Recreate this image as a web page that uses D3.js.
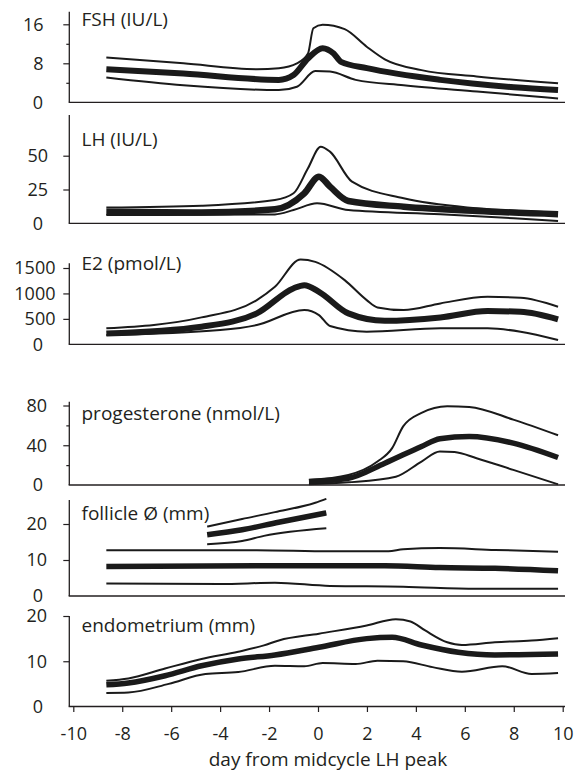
<!DOCTYPE html>
<html>
<head>
<meta charset="utf-8">
<script src="https://cdn.jsdelivr.net/npm/d3@7/dist/d3.min.js"></script>
<style>
  html, body { margin: 0; padding: 0; background: #fff; }
  svg { display: block; }
  text { font-family: "Open Sans", "DejaVu Sans", sans-serif; fill: #231f20; }
</style>
</head>
<body>
<svg id="chart" width="576" height="771"></svg>
<script>
// Day from the midcycle LH peak, shared by every panel
const dayTicks = [-10, -8, -6, -4, -2, 0, 2, 4, 6, 8, 10];
const xLabel = "day from midcycle LH peak";

// Each series: [day, value]; upper / mean / lower band of the cycle profile
const fshUpper = [[-8.65, 9.2], [-5.5, 8.0], [-2.5, 6.8], [-1.6, 7.0], [-0.86, 8.0], [-0.41, 10.0], [-0.19, 15.2], [0.19, 15.9], [1.09, 15.0], [1.99, 11.4], [2.73, 8.8], [4.23, 6.6], [6.48, 5.3], [9.81, 3.9]];
const fshMean  = [[-8.65, 6.8], [-5.5, 5.9], [-1.6, 4.6], [-1.0, 5.6], [-0.41, 9.0], [0.19, 11.1], [0.64, 10.0], [0.94, 8.3], [2.0, 7.0], [5.0, 4.6], [8.0, 3.1], [9.81, 2.5]];
const fshLower = [[-8.65, 5.1], [-5.5, 3.5], [-1.6, 2.5], [-0.86, 3.2], [-0.11, 6.4], [0.49, 6.3], [1.54, 4.6], [3.5, 3.5], [6.5, 2.2], [9.81, 0.8]];

const lhUpper = [[-8.65, 11.6], [-4.76, 13.0], [-1.76, 17.2], [-1.0, 22.2], [-0.41, 40.7], [0.11, 56.7], [0.49, 53.0], [1.39, 30.8], [3.5, 18.5], [6.5, 11.1], [9.81, 8.1]];
const lhMean  = [[-8.65, 8.6], [-4.76, 8.0], [-1.76, 10.4], [-0.56, 22.2], [0.04, 34.5], [0.49, 27.1], [1.24, 16.5], [3.5, 12.3], [6.5, 9.1], [9.81, 6.7]];
const lhLower = [[-8.65, 6.1], [-1.76, 6.6], [-1.0, 9.8], [-0.04, 14.8], [1.24, 9.8], [5.0, 6.7], [8.0, 3.7], [9.81, 1.7]];

const e2Upper = [[-8.65, 314], [-4.76, 529], [-2.5, 869], [-1.76, 1130], [-0.71, 1667], [-0.11, 1620], [1.09, 1261], [1.99, 869], [2.43, 725], [3.5, 673], [5.0, 804], [6.93, 934], [8.28, 915], [9.81, 738]];
const e2Mean  = [[-8.65, 210], [-4.76, 346], [-2.5, 608], [-1.01, 1098], [-0.56, 1163], [0.04, 1032], [1.24, 608], [2.73, 463], [5.0, 529], [6.93, 653], [8.28, 640], [9.81, 490]];
const e2Lower = [[-8.65, 182], [-4.0, 280], [-2.5, 378], [-0.56, 673], [0.04, 575], [0.49, 359], [1.99, 248], [5.0, 314], [6.93, 314], [8.28, 248], [9.81, 84]];

const progUpper = [[-0.37, 5.1], [1.24, 10.1], [2.43, 23.6], [3.03, 37.1], [3.48, 59.0], [4.23, 72.6], [5.28, 79.3], [6.18, 78.6], [7.98, 65.8], [9.81, 50.0]];
const progMean  = [[-0.37, 3.4], [1.24, 6.8], [2.73, 21.9], [4.23, 38.8], [4.98, 46.6], [6.18, 48.9], [7.98, 42.2], [9.81, 27.7]];
const progLower = [[-0.37, 0.7], [1.24, 2.7], [3.18, 8.4], [4.23, 23.6], [4.98, 33.8], [5.58, 33.1], [6.48, 27.0], [7.98, 15.2], [9.81, 0.7]];

// Dominant follicle (short segment before the LH peak)
const domUpper = [[-4.53, 19.3], [-3.1, 21.4], [-1.76, 23.3], [-0.11, 25.9], [0.34, 27.0]];
const domMean  = [[-4.53, 17.0], [-3.1, 18.4], [-1.61, 20.5], [0.34, 23.1]];
const domLower = [[-4.53, 14.4], [-3.1, 15.3], [-2.21, 16.7], [0.34, 18.8]];
// Follicle cohort
const folUpper = [[-8.65, 12.7], [-2.5, 12.7], [0.49, 12.4], [2.88, 12.4], [3.48, 13.0], [4.98, 13.3], [7.23, 12.8], [9.81, 12.3]];
const folMean  = [[-8.65, 8.2], [-2.5, 8.4], [2.73, 8.4], [4.98, 7.9], [7.23, 7.7], [9.81, 7.0]];
const folLower = [[-8.65, 3.5], [-4.0, 3.3], [-1.76, 3.7], [0.49, 2.8], [3.48, 2.6], [6.48, 2.0], [9.81, 2.0]];

const endoUpper = [[-8.65, 5.7], [-7.75, 6.2], [-6.25, 8.4], [-4.76, 10.5], [-3.26, 12.1], [-2.21, 13.5], [-1.6, 14.6], [0.04, 16.1], [1.99, 17.9], [3.18, 19.3], [3.78, 18.8], [4.38, 16.8], [5.28, 14.2], [5.88, 13.6], [7.23, 14.2], [8.73, 14.6], [9.81, 15.1]];
const endoMean  = [[-8.65, 4.8], [-7.75, 5.2], [-6.25, 6.8], [-4.76, 9.0], [-3.26, 10.5], [-1.76, 11.4], [0.04, 13.1], [1.99, 15.0], [3.03, 15.3], [4.23, 13.6], [5.73, 12.0], [7.23, 11.4], [9.81, 11.6]];
const endoLower = [[-8.65, 3.0], [-7.75, 3.1], [-6.1, 5.0], [-4.6, 7.2], [-3.26, 7.6], [-1.76, 9.0], [-0.56, 8.9], [0.19, 9.6], [1.54, 9.4], [2.43, 10.1], [3.48, 10.0], [4.68, 8.7], [5.88, 7.7], [7.53, 8.9], [8.73, 7.2], [9.81, 7.4]];

// Panel titles and y tick labels
const titles = ["FSH (IU/L)", "LH (IU/L)", "E2 (pmol/L)", "progesterone (nmol/L)", "follicle Ø (mm)", "endometrium (mm)"];
const fshTicks = [0, 8, 16],      fshMinor = [4, 12];
const lhTicks = [0, 25, 50];
const e2Ticks = [0, 500, 1000, 1500];
const progTicks = [0, 40, 80],    progMinor = [20, 60];
const folTicks = [0, 10, 20];
const endoTicks = [0, 10, 20];

// ---- layout ----
const svg = d3.select("#chart");
const ink = "#231f20";
const axisX0 = 69.3, axisX1 = 565;
const zeroRight = 43;  // right edge of the "0" labels
const x = d3.scaleLinear().domain([-10, 10]).range([73.3, 562.7]);

const panels = [
  { title: titles[0], ticks: fshTicks, minor: fshMinor, top: 16, y0: 102.3, yTop: 24.3, axisTop: 11.7, titleY: 26, labelRight: 43.5,
    series: [[fshUpper, 2], [fshLower, 2], [fshMean, 6]] },
  { title: titles[1], ticks: lhTicks, minor: [], top: 50, y0: 223.3, yTop: 155.7, axisTop: 115, titleY: 146, labelRight: 48,
    series: [[lhUpper, 2], [lhLower, 2], [lhMean, 6.5]] },
  { title: titles[2], ticks: e2Ticks, minor: [], top: 1500, y0: 344.3, yTop: 268, axisTop: 263.3, titleY: 270, labelRight: 55.5,
    series: [[e2Upper, 2], [e2Lower, 2], [e2Mean, 6]] },
  { title: titles[3], ticks: progTicks, minor: progMinor, top: 80, y0: 485, yTop: 405.5, axisTop: 401.7, titleY: 420, labelRight: 47,
    series: [[progUpper, 2], [progLower, 2], [progMean, 5.5]] },
  { title: titles[4], ticks: folTicks, minor: [], top: 20, y0: 596, yTop: 524, axisTop: 500, titleY: 520, labelRight: 47,
    series: [[domUpper, 2], [domLower, 2], [domMean, 5.5], [folUpper, 2], [folLower, 2], [folMean, 5.5]] },
  { title: titles[5], ticks: endoTicks, minor: [], top: 20, y0: 706.5, yTop: 616, axisTop: 616, titleY: 632, labelRight: 47,
    series: [[endoUpper, 2], [endoLower, 2], [endoMean, 5.5]] }
];

panels.forEach((p, i) => {
  const y = d3.scaleLinear().domain([0, p.top]).range([p.y0, p.yTop]);
  const g = svg.append("g");

  // profile curves
  const line = d3.line().x(d => x(d[0])).y(d => y(d[1])).curve(d3.curveMonotoneX);
  p.series.forEach(([data, w]) => {
    g.append("path").datum(data).attr("d", line)
      .attr("fill", "none").attr("stroke", "#1a1a1a").attr("stroke-width", w)
      .attr("stroke-linejoin", "round");
  });

  // axis lines
  g.append("line").attr("x1", axisX0).attr("x2", axisX0).attr("y1", p.axisTop).attr("y2", p.y0)
    .attr("stroke", ink).attr("stroke-width", 1.3);
  g.append("line").attr("x1", axisX0 - 0.65).attr("x2", axisX1).attr("y1", p.y0).attr("y2", p.y0)
    .attr("stroke", ink).attr("stroke-width", 1.3);

  // y ticks and labels
  const yAxis = d3.axisLeft(y).tickValues(p.ticks).tickSize(6).tickPadding(20).tickFormat(d => String(d));
  const ga = g.append("g").attr("transform", `translate(${axisX0},0)`).call(yAxis);
  ga.select(".domain").remove();
  ga.selectAll(".tick line").attr("stroke", ink).attr("stroke-width", 1.2)
    .filter(d => d === 0).remove();
  ga.selectAll(".tick text").attr("font-size", 18).attr("fill", ink)
    .attr("font-family", "'Open Sans', sans-serif")
    .attr("x", d => (d === 0 ? zeroRight : p.labelRight) - axisX0);

  if (p.minor.length) {
    const gm = g.append("g").attr("transform", `translate(${axisX0},0)`)
      .call(d3.axisLeft(y).tickValues(p.minor).tickSize(3).tickFormat(""));
    gm.select(".domain").remove();
    gm.selectAll(".tick line").attr("stroke", ink).attr("stroke-width", 1.2);
  }

  // panel title
  g.append("text").attr("x", 81.5).attr("y", p.titleY).attr("font-size", 19).text(p.title);

  // x axis on the bottom panel only
  if (i === panels.length - 1) {
    const xa = g.append("g").attr("transform", `translate(0,${p.y0})`)
      .call(d3.axisBottom(x).tickValues(dayTicks).tickSize(5.5).tickPadding(15).tickFormat(d => String(d)));
    xa.select(".domain").remove();
    xa.selectAll(".tick line").attr("stroke", ink).attr("stroke-width", 1.2);
    xa.selectAll(".tick text").attr("font-size", 18).attr("fill", ink)
      .attr("font-family", "'Open Sans', sans-serif");

    svg.append("text").attr("x", 328).attr("y", 766).attr("text-anchor", "middle")
      .attr("font-size", 19).text(xLabel);
  }
});
</script>
</body>
</html>
